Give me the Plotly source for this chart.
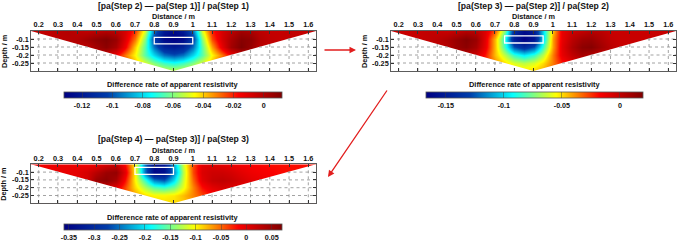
import plotly.graph_objects as go

# ---------------- data ----------------
DIST = [0.15, 0.20, 0.25, 0.30, 0.35, 0.40, 0.45, 0.50, 0.55, 0.60, 0.65,
        0.70, 0.75, 0.80, 0.85, 0.90, 0.95, 1.00, 1.05, 1.10, 1.15, 1.20,
        1.25, 1.30, 1.35, 1.40, 1.45, 1.50, 1.55, 1.60, 1.65]
DEPTH = [-0.05, -0.10, -0.15, -0.20, -0.25, -0.30]

# Panel 1: [pa(Step 2) - pa(Step 1)] / pa(Step 1)
RATE_STEP2 = [
    [-0.004, -0.004, -0.003, -0.001, 0.0, -0.002, -0.003, -0.002, 0.0, -0.002,
     -0.008, -0.022, -0.05, -0.095, -0.12, -0.128, -0.12, -0.095,
     -0.05, -0.02, -0.008, -0.002, 0.004, 0.002, -0.002, -0.004, -0.004, -0.003, -0.004, -0.004, -0.004],
    [-0.004, -0.004, -0.003, -0.002, -0.001, 0.0, 0.004, 0.008, 0.011, 0.006,
     -0.01, -0.03, -0.06, -0.105, -0.128, -0.132, -0.128, -0.105,
     -0.06, -0.025, -0.008, 0.002, 0.01, 0.008, 0.0, -0.003, -0.004, -0.004, -0.004, -0.004, -0.004],
    [-0.004, -0.004, -0.003, -0.002, -0.002, -0.002, -0.002, 0.004, 0.009, 0.002,
     -0.015, -0.04, -0.065, -0.095, -0.115, -0.12, -0.115, -0.095,
     -0.065, -0.035, -0.012, 0.004, 0.012, 0.006, -0.002, -0.004, -0.004, -0.004, -0.004, -0.004, -0.004],
    [-0.004, -0.004, -0.004, -0.004, -0.004, -0.004, -0.004, -0.004, -0.006, -0.015,
     -0.03, -0.045, -0.065, -0.08, -0.095, -0.1, -0.095, -0.08,
     -0.065, -0.045, -0.03, -0.015, -0.006, -0.004, -0.004, -0.004, -0.004, -0.004, -0.004, -0.004, -0.004],
    [-0.01, -0.01, -0.01, -0.01, -0.01, -0.01, -0.01, -0.01, -0.01, -0.015,
     -0.025, -0.038, -0.05, -0.06, -0.068, -0.072, -0.068, -0.06,
     -0.05, -0.038, -0.025, -0.015, -0.01, -0.01, -0.01, -0.01, -0.01, -0.01, -0.01, -0.01, -0.01],
    [-0.01, -0.01, -0.01, -0.01, -0.01, -0.01, -0.01, -0.01, -0.01, -0.015,
     -0.02, -0.03, -0.04, -0.046, -0.05, -0.052, -0.05, -0.046,
     -0.04, -0.03, -0.02, -0.015, -0.01, -0.01, -0.01, -0.01, -0.01, -0.01, -0.01, -0.01, -0.01],
]

# Panel 2: [pa(Step 3) - pa(Step 2)] / pa(Step 2)
RATE_STEP3 = [
    [-0.002, -0.002, -0.002, -0.001, 0.0, -0.001, -0.002, 0.0, 0.004, 0.002,
     -0.008, -0.03, -0.075, -0.14, -0.16, -0.15, -0.1, -0.045,
     -0.012, -0.003, 0.0, 0.004, 0.002, -0.002, -0.002, -0.002, -0.002, -0.002, -0.002, -0.002, -0.002],
    [-0.002, -0.002, -0.002, -0.002, 0.0, 0.002, 0.006, 0.012, 0.018, 0.012,
     -0.01, -0.045, -0.09, -0.15, -0.167, -0.155, -0.1, -0.04,
     -0.012, 0.002, 0.01, 0.012, 0.006, 0.0, -0.002, -0.002, -0.002, -0.002, -0.002, -0.002, -0.002],
    [-0.002, -0.002, -0.002, -0.002, -0.002, 0.0, 0.004, 0.012, 0.016, 0.008,
     -0.012, -0.045, -0.085, -0.125, -0.14, -0.125, -0.085, -0.04,
     -0.01, 0.006, 0.016, 0.018, 0.01, 0.002, -0.002, -0.002, -0.002, -0.002, -0.002, -0.002, -0.002],
    [-0.002, -0.002, -0.002, -0.002, -0.002, -0.002, -0.002, -0.002, 0.0, -0.005,
     -0.02, -0.045, -0.065, -0.085, -0.095, -0.085, -0.065, -0.035,
     -0.012, 0.0, 0.008, 0.004, -0.002, -0.002, -0.002, -0.002, -0.002, -0.002, -0.002, -0.002, -0.002],
    [-0.005, -0.005, -0.005, -0.005, -0.005, -0.005, -0.005, -0.005, -0.005, -0.012,
     -0.025, -0.038, -0.05, -0.06, -0.065, -0.06, -0.05, -0.035,
     -0.02, -0.01, -0.005, -0.003, -0.003, -0.003, -0.003, -0.003, -0.003, -0.003, -0.003, -0.003, -0.003],
    [-0.005, -0.005, -0.005, -0.005, -0.005, -0.005, -0.005, -0.005, -0.005, -0.012,
     -0.02, -0.03, -0.04, -0.046, -0.05, -0.048, -0.042, -0.032,
     -0.02, -0.01, -0.005, -0.003, -0.003, -0.003, -0.003, -0.003, -0.003, -0.003, -0.003, -0.003, -0.003],
]

# Panel 3: [pa(Step 4) - pa(Step 3)] / pa(Step 3)
RATE_STEP4 = [
    [-0.01, -0.01, -0.008, -0.005, -0.005, -0.008, -0.01, -0.005, 0.01, 0.02,
     -0.02, -0.1, -0.25, -0.34, -0.33, -0.22, -0.12, -0.04,
     0.0, 0.005, 0.0, -0.005, -0.012, -0.015, -0.018, -0.02, -0.02, -0.02, -0.02, -0.02, -0.02],
    [-0.01, -0.01, -0.008, -0.005, -0.003, 0.0, 0.01, 0.03, 0.05, 0.055,
     0.0, -0.1, -0.25, -0.35, -0.34, -0.24, -0.13, -0.04,
     0.005, 0.015, 0.015, 0.01, 0.0, -0.008, -0.012, -0.015, -0.018, -0.02, -0.02, -0.02, -0.02],
    [-0.01, -0.01, -0.008, -0.005, -0.003, 0.0, 0.01, 0.05, 0.06, 0.04,
     -0.02, -0.1, -0.17, -0.24, -0.26, -0.2, -0.12, -0.05,
     0.0, 0.02, 0.025, 0.02, 0.01, 0.0, -0.005, -0.01, -0.015, -0.02, -0.02, -0.02, -0.02],
    [-0.005, -0.005, -0.005, -0.005, -0.005, -0.005, -0.005, -0.005, 0.01, 0.0,
     -0.04, -0.09, -0.13, -0.16, -0.17, -0.15, -0.11, -0.06,
     -0.02, 0.0, 0.01, 0.005, 0.0, -0.005, -0.01, -0.01, -0.01, -0.01, -0.01, -0.01, -0.01],
    [-0.01, -0.01, -0.01, -0.01, -0.01, -0.01, -0.01, -0.01, -0.01, -0.02,
     -0.045, -0.07, -0.09, -0.1, -0.1, -0.095, -0.08, -0.06,
     -0.04, -0.02, -0.01, -0.005, -0.005, -0.005, -0.005, -0.005, -0.005, -0.005, -0.005, -0.005, -0.005],
    [-0.01, -0.01, -0.01, -0.01, -0.01, -0.01, -0.01, -0.01, -0.01, -0.02,
     -0.04, -0.06, -0.075, -0.085, -0.09, -0.09, -0.085, -0.07,
     -0.05, -0.03, -0.015, -0.005, -0.005, -0.005, -0.005, -0.005, -0.005, -0.005, -0.005, -0.005, -0.005],
]

TITLES = ["[pa(Step 2) \u2014 pa(Step 1)] / pa(Step 1)",
          "[pa(Step 3) \u2014 pa(Step 2)] / pa(Step 2)",
          "[pa(Step 4) \u2014 pa(Step 3)] / pa(Step 3)"]
X_TITLE = "Distance / m"
Y_TITLE = "Depth / m"
CB_TITLE = "Difference rate of apparent resistivity"

# survey line geometry (pseudo-section triangle)
LINE_START, LINE_END = 0.16, 1.64
TOP_DEPTH, MAX_DEPTH = -0.05, -0.30

# white target rectangles [x0, x1], [depth0, depth1]
TARGET_X = [[0.8, 1.0], [0.75, 0.95], [0.7, 0.9]]
TARGET_DEPTH = [[-0.09, -0.13], [-0.08, -0.125], [-0.07, -0.115]]

# colour ranges
Z_RANGES = [[-0.132, 0.012], [-0.167, 0.020], [-0.36, 0.07]]

X_TICKS = [0.2, 0.3, 0.4, 0.5, 0.6, 0.7, 0.8, 0.9, 1.0, 1.1, 1.2, 1.3, 1.4, 1.5, 1.6]
X_TICK_TEXT = ["0.2", "0.3", "0.4", "0.5", "0.6", "0.7", "0.8", "0.9", "1",
               "1.1", "1.2", "1.3", "1.4", "1.5", "1.6"]
Y_TICKS = [-0.1, -0.15, -0.2, -0.25]
Y_TICK_TEXT = ["-0.1", "-0.15", "-0.2", "-0.25"]

CB_TICKS = [[-0.12, -0.1, -0.08, -0.06, -0.04, -0.02, 0],
            [-0.15, -0.1, -0.05, 0],
            [-0.35, -0.3, -0.25, -0.2, -0.15, -0.1, -0.05, 0, 0.05]]
CB_TICK_TEXT = [["-0.12", "-0.1", "-0.08", "-0.06", "-0.04", "-0.02", "0"],
                ["-0.15", "-0.1", "-0.05", "0"],
                ["-0.35", "-0.3", "-0.25", "-0.2", "-0.15", "-0.1", "-0.05", "0", "0.05"]]

# ---------------- layout geometry (pixels) ----------------
W, H = 685, 241
FONT = "Liberation Sans, Arial, sans-serif"
PANELS = [  # left, right, top, bottom of plot box
    (31, 316, 31, 71),
    (391, 676, 31, 71),
    (31, 316, 164.3, 203.3),
]
CBARS = [  # left, right, top, thickness
    (64, 281.7, 91.7, 6),
    (426, 643.3, 92, 6),
    (64, 281.7, 224.3, 5.5),
]


def px(xp):
    return xp / W


def py(yp):
    return 1 - yp / H


fig = go.Figure()
apex = (LINE_START + LINE_END) / 2
zs = [RATE_STEP2, RATE_STEP3, RATE_STEP4]
bold = dict(family=FONT, size=7.3, color="#111", weight="bold")

for i in range(3):
    sfx = "" if i == 0 else str(i + 1)
    xa, ya = "x" + sfx, "y" + sfx
    l, r, t, b = PANELS[i]
    cl, cr, ct, cth = CBARS[i]
    fig.add_trace(go.Heatmap(
        x=DIST, y=DEPTH, z=zs[i], zsmooth="best", colorscale="Jet",
        zmin=Z_RANGES[i][0], zmax=Z_RANGES[i][1], xaxis=xa, yaxis=ya,
        hoverinfo="skip",
        colorbar=dict(
            orientation="h", x=px((cl + cr) / 2), xanchor="center",
            y=py(ct), yanchor="top", len=cr - cl, lenmode="pixels",
            thickness=cth, thicknessmode="pixels", xpad=0, ypad=0,
            outlinewidth=0.8, outlinecolor="#555",
            tickvals=CB_TICKS[i], ticktext=CB_TICK_TEXT[i],
            ticks="inside", ticklen=cth, tickcolor="rgba(60,60,60,0.45)", tickwidth=1,
            tickfont=dict(family=FONT, size=7.2, color="#111", weight="bold"),
        ),
    ))
    # white masks outside the pseudo-section triangle
    pad = 0.05
    for edge in (LINE_START, LINE_END):
        out = edge - pad if edge == LINE_START else edge + pad
        fig.add_trace(go.Scatter(
            x=[out, edge, apex, apex, out, out],
            y=[TOP_DEPTH + pad, TOP_DEPTH, MAX_DEPTH, MAX_DEPTH - pad, MAX_DEPTH - pad, TOP_DEPTH + pad],
            fill="toself", fillcolor="white", mode="none", xaxis=xa, yaxis=ya,
            hoverinfo="skip", showlegend=False))
    # dotted grid visible only in the white region
    gx, gy = [], []
    span = TOP_DEPTH - MAX_DEPTH
    for yv in Y_TICKS:
        frac = (TOP_DEPTH - yv) / span
        le = LINE_START + frac * (apex - LINE_START)
        re = LINE_END - frac * (LINE_END - apex)
        gx += [LINE_START, le, None, re, LINE_END, None]
        gy += [yv, yv, None, yv, yv, None]
    for xv in X_TICKS:
        if xv < apex:
            ey = TOP_DEPTH - (xv - LINE_START) / (apex - LINE_START) * span
        else:
            ey = TOP_DEPTH - (LINE_END - xv) / (LINE_END - apex) * span
        gx += [xv, xv, None]
        gy += [MAX_DEPTH, ey, None]
    fig.add_trace(go.Scatter(
        x=gx, y=gy, mode="lines", line=dict(color="rgb(140,140,140)", width=0.8, dash="dot"),
        xaxis=xa, yaxis=ya, hoverinfo="skip", showlegend=False))

    fig.add_shape(type="rect", xref=xa, yref=ya,
                  x0=TARGET_X[i][0], x1=TARGET_X[i][1],
                  y0=TARGET_DEPTH[i][0], y1=TARGET_DEPTH[i][1],
                  line=dict(color="white", width=1.3))

    fig.update_layout(**{
        ("xaxis" + sfx): dict(
            domain=[px(l), px(r)], anchor=ya, side="top",
            range=[LINE_START, LINE_END], tickvals=X_TICKS, ticktext=X_TICK_TEXT,
            ticks="inside", ticklen=3, tickcolor="#333", showgrid=False, zeroline=False,
            showline=True, linecolor="#333", linewidth=0.8, mirror="ticks",
            tickfont=bold,
        ),
        ("yaxis" + sfx): dict(
            domain=[py(b), py(t)], anchor=xa,
            range=[MAX_DEPTH, TOP_DEPTH], tickvals=Y_TICKS, ticktext=Y_TICK_TEXT,
            ticks="inside", ticklen=3, tickcolor="#333", showgrid=False, zeroline=False,
            showline=True, linecolor="#333", linewidth=0.8, mirror="ticks",
            tickfont=bold,
        ),
    })
    # panel title
    fig.add_annotation(text=TITLES[i], xref="paper", yref="paper",
                       x=px((l + r) / 2), y=py(t - 25.5), xanchor="center", yanchor="middle",
                       showarrow=False, font=dict(family=FONT, size=8.6, color="#111", weight="bold"))
    # axis titles
    fig.add_annotation(text=X_TITLE, xref="paper", yref="paper",
                       x=px((l + r) / 2), y=py(t - 14.3), xanchor="center", yanchor="middle",
                       showarrow=False, font=bold)
    fig.add_annotation(text=Y_TITLE, xref="paper", yref="paper", textangle=-90,
                       x=px(l - 27), y=py((t + b) / 2), xanchor="center", yanchor="middle",
                       showarrow=False, font=bold)
    # colourbar title
    fig.add_annotation(text=CB_TITLE, xref="paper", yref="paper",
                       x=px((cl + cr) / 2), y=py(ct - 7.2), xanchor="center", yanchor="middle",
                       showarrow=False, font=dict(family=FONT, size=7.4, color="#111", weight="bold"))

# red arrows between steps
ARROW_RED = "rgb(226,30,30)"
fig.add_annotation(x=px(356), y=py(50), xref="paper", yref="paper", text="",
                   showarrow=True, ax=-33, ay=0, arrowhead=2, arrowsize=1,
                   arrowwidth=1.3, arrowcolor=ARROW_RED, standoff=0, startstandoff=0)
fig.add_annotation(x=px(328), y=py(177), xref="paper", yref="paper", text="",
                   showarrow=True, ax=60, ay=-88, arrowhead=2, arrowsize=1,
                   arrowwidth=1.3, arrowcolor=ARROW_RED, standoff=0, startstandoff=0)

fig.update_layout(width=W, height=H,
                  margin=dict(l=0, r=0, t=0, b=0, pad=0, autoexpand=False),
                  paper_bgcolor="white", plot_bgcolor="white", showlegend=False,
                  font=dict(family=FONT, color="#111"))

fig.write_html("out.html", config={"displayModeBar": False, "staticPlot": True},
               post_script="document.body.style.margin='0';document.body.style.overflow='hidden';")
